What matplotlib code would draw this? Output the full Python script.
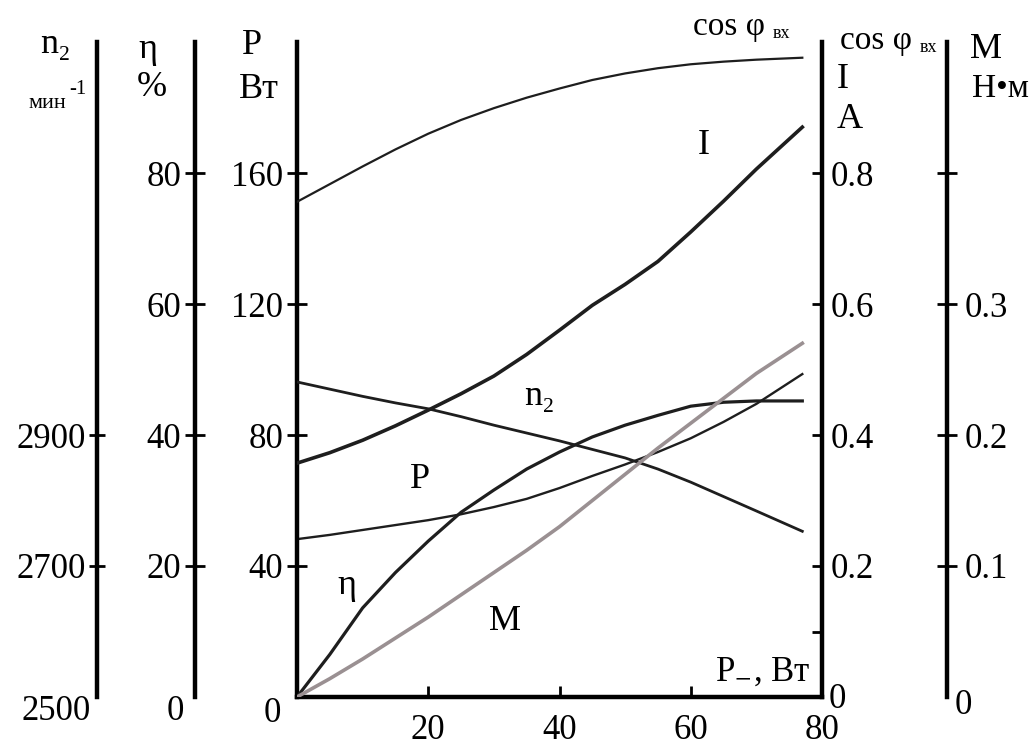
import matplotlib
matplotlib.use("Agg")
import matplotlib.pyplot as plt

plt.rcParams['font.family'] = ['Liberation Serif', 'DejaVu Serif']
plt.rcParams['mathtext.fontset'] = 'stix'

# output power P_, W (x axis)
p_out = [0, 5, 10, 15, 20, 25, 30, 35, 40, 45, 50, 55, 60, 65, 70, 77]

# input power factor cos phi
cos_phi = [0.756, 0.783, 0.81, 0.836, 0.86, 0.881, 0.899, 0.915, 0.929,
           0.942, 0.952, 0.96, 0.966, 0.97, 0.973, 0.976]
# current I, A
current = [0.357, 0.373, 0.392, 0.414, 0.438, 0.463, 0.49, 0.523, 0.56,
           0.598, 0.63, 0.665, 0.71, 0.757, 0.806, 0.87]
# speed n2, 1/min
speed = [2981, 2970, 2959, 2949, 2940, 2928, 2915, 2903, 2891, 2878, 2865,
         2848, 2828, 2806, 2784, 2753]
# power P, W
power = [48.2, 49.5, 51.0, 52.5, 54.0, 55.8, 58.0, 60.5, 63.8, 67.5, 71.0,
         74.8, 79.0, 84.0, 89.5, 98.6]
# efficiency, %
eff = [0, 6.5, 13.6, 19.0, 23.8, 28.2, 31.6, 34.8, 37.4, 39.7, 41.5, 43.0,
       44.4, 45.0, 45.2, 45.2]
# torque M, N*m
torque = [0, 0.014, 0.029, 0.045, 0.061, 0.078, 0.095, 0.112, 0.13, 0.15,
          0.17, 0.19, 0.209, 0.228, 0.247, 0.27]

W, H = 1032, 745
fig = plt.figure(figsize=(W / 100, H / 100), dpi=100)
ax = fig.add_axes([297 / W, 48 / H, 525 / W, 655 / H])

ax.set_xlim(0, 80)
ax.set_ylim(0, 200)
ax.spines['top'].set_visible(False)
for s in ['left', 'bottom', 'right']:
    ax.spines[s].set_linewidth(3.2)
ax.set_xticks([20, 40, 60, 80], ['20', '40', '60', '80'])
ax.set_yticks([40, 80, 120, 160], ['40', '80', '120', '160'])
ax.tick_params(axis='x', direction='in', length=8, width=2, pad=12, labelsize=25)
ax.tick_params(axis='y', direction='inout', length=14, width=2, pad=3, labelsize=25)


def side_axis(pos, side, lim, ticks, labels, direction, length, pad):
    a = ax.twinx()
    for s in a.spines.values():
        s.set_visible(False)
    sp = a.spines[side]
    sp.set_visible(True)
    sp.set_position(('axes', pos))
    sp.set_linewidth(3.2)
    a.yaxis.set_ticks_position(side)
    a.set_ylim(*lim)
    a.set_yticks(ticks, labels)
    a.tick_params(axis='y', direction=direction, length=length, width=2,
                  pad=pad, labelsize=25)
    return a


ax_r = side_axis(1.0, 'right', (0, 1), [0.2, 0.4, 0.6, 0.8],
                 ['0.2', '0.4', '0.6', '0.8'], 'in', 7, 6)
ax_r.set_yticks([0.1], minor=True)
ax_r.tick_params(axis='y', which='minor', direction='in', length=7, width=2)
ax_r.spines['right'].set_visible(False)

ax_eta = side_axis(-0.1943, 'left', (0, 100), [20, 40, 60, 80],
                   ['20', '40', '60', '80'], 'inout', 14, 3)
ax_n = side_axis(-0.381, 'left', (2500, 3500), [2700, 2900],
                 ['2700', '2900'], 'inout', 12, 2)
ax_m = side_axis(1.238, 'right', (0, 0.5), [0.1, 0.2, 0.3, 0.4],
                 ['0.1', '0.2', '0.3', ''], 'inout', 14, 6)

# curves
ax_r.plot(p_out, cos_phi, color='#1e1e1e', lw=1.6)
ax_r.plot(p_out, current, color='#1e1e1e', lw=2.6)
ax_n.plot(p_out, speed, color='#1e1e1e', lw=2.0)
ax.plot(p_out, power, color='#1e1e1e', lw=1.7)
ax_eta.plot(p_out, eff, color='#1e1e1e', lw=2.3)
ax_m.plot(p_out, torque, color='#9a9092', lw=2.6)


def t(px, py, s, size=26, ha='center'):
    fig.text(px / W, 1 - py / H, s, ha=ha, va='center', fontsize=size)


# axis headers
t(55, 44, 'n₂')
t(47, 103, 'мин', 16)
t(78, 90, '-1', 15)
t(148, 50, 'η')
t(152, 88, '%')
t(252, 45, 'P')
t(259, 89, 'Вт')
t(729, 27, 'cos φ', 24)
t(781, 33, 'вх', 13)
t(876, 41, 'cos φ', 24)
t(928, 47, 'вх', 13)
t(843, 79, 'I')
t(850, 119, 'A')
t(986, 50, 'M')
t(1000, 89, 'Н•м', 24)

# zero labels at the foot of each scale
t(56, 712, '2500', 25)
t(175, 712, '0', 25)
t(272, 714, '0', 25)
t(837, 699, '0', 25)
t(963, 705, '0', 25)

# curve labels
t(704, 145, 'I')
t(539, 397, 'n₂')
t(420, 480, 'P')
t(347, 585, 'η')
t(505, 622, 'M')
t(763, 672, 'P$_{-}$, Вт', 25)

fig.savefig('out.png', dpi=100)
